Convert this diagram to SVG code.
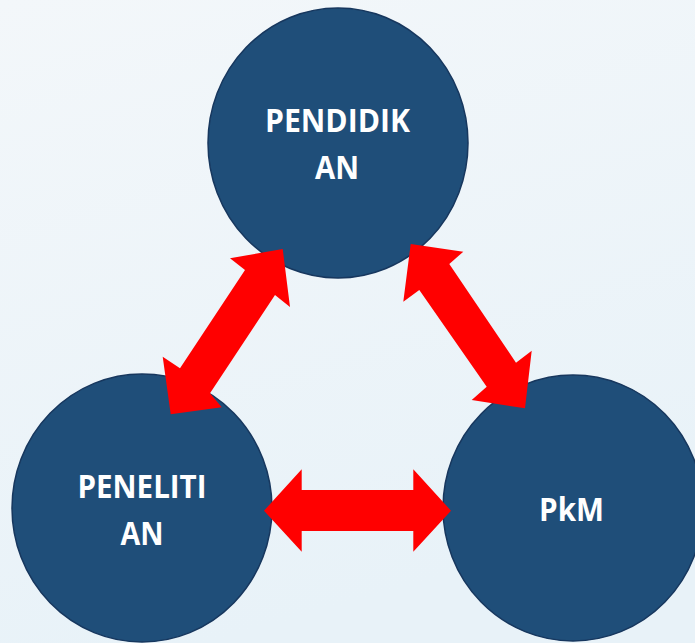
<svg xmlns="http://www.w3.org/2000/svg" width="695" height="643" viewBox="0 0 695 643">
<defs>
<linearGradient id="bg" x1="0" y1="0" x2="0.3" y2="1">
<stop offset="0" stop-color="#F3F7FA"/>
<stop offset="1" stop-color="#E8F2F8"/>
</linearGradient>
<style>
.node{fill:#1F4E79;stroke:#17375E;stroke-width:1.5}
.lbl{font-family:"Open Sans","Liberation Sans",sans-serif;font-weight:bold;font-size:33px;fill:#FFFFFF;text-anchor:middle}
.arr{fill:#FF0000;stroke:none}
</style>
</defs>
<rect width="695" height="643" fill="url(#bg)"/>
<g id="node-pendidikan">
<ellipse class="node" cx="338" cy="143" rx="130" ry="135"/>
<text class="lbl" x="337.5" y="132" textLength="145" lengthAdjust="spacingAndGlyphs">PENDIDIK</text>
<text class="lbl" x="337" y="179" textLength="44" lengthAdjust="spacingAndGlyphs">AN</text>
</g>
<g id="node-penelitian">
<ellipse class="node" cx="142" cy="508" rx="130" ry="134"/>
<text class="lbl" x="142" y="498" textLength="129" lengthAdjust="spacingAndGlyphs">PENELITI</text>
<text class="lbl" x="142" y="545" textLength="43" lengthAdjust="spacingAndGlyphs">AN</text>
</g>
<g id="node-pkm">
<ellipse class="node" cx="573" cy="508" rx="130" ry="133"/>
<text class="lbl" x="571.5" y="521" textLength="65" lengthAdjust="spacingAndGlyphs">PkM</text>
</g>
<g id="connectors">
<polygon class="arr" points="282.7,249 290,307 275,295 210,393.3 221.7,407.3 170.7,414.3 162.7,356.7 180,368.3 245,270 230,258.3"/>
<polygon class="arr" points="410.7,244 463.3,251.7 449.3,264 516,362.7 531.7,350.7 525,408.3 471.7,400 486.7,386.7 419.3,290 403.3,301.7"/>
<polygon class="arr" points="264,510.7 301.7,469.3 301.7,490 413.3,490 413.3,469.3 451,510.7 413.3,551.7 413.3,531 301.7,531 301.7,551.7"/>
</g>
</svg>
